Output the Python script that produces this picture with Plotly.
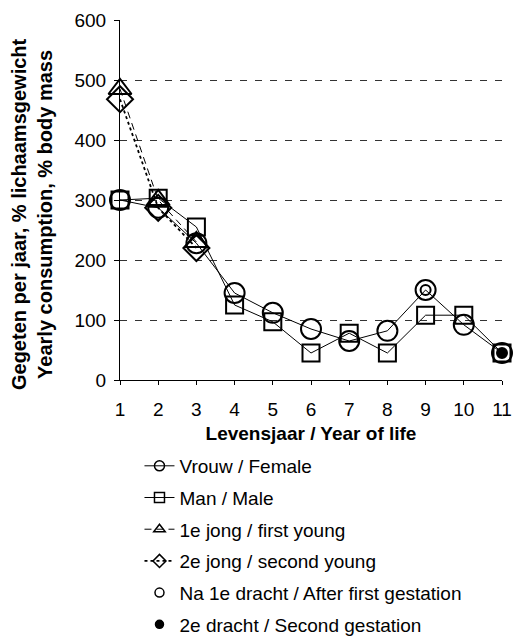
import plotly.graph_objects as go

years = [1, 2, 3, 4, 5, 6, 7, 8, 9, 10, 11]
female = [300, 287, 228, 145, 112, 85, 65, 82, 150, 92, 45]
male = [300, 303, 255, 125, 97, 45, 78, 45, 108, 108, 45]
young_years = [1, 2, 3]
first_young = [485, 300, 230]
second_young = [468, 287, 220]
gest1_year = [9]
gest1_val = [150]
gest2_year = [11]
gest2_val = [45]

y_ticks = [0, 100, 200, 300, 400, 500, 600]

FONT = "Liberation Sans, Arial, sans-serif"

fig = go.Figure()

main = [
    dict(name="Vrouw / Female", x=years, y=female, sym="circle-open", size=20, dash="solid", lw=1, mode="lines+markers"),
    dict(name="Man / Male", x=years, y=male, sym="square-open", size=17, dash="solid", lw=1, mode="lines+markers"),
    dict(name="1e jong / first young", x=young_years, y=first_young, sym="triangle-up-open", size=20, dash="7px,5px", lw=1, mode="lines+markers"),
    dict(name="2e jong / second young", x=young_years, y=second_young, sym="diamond-open", size=20, dash="3px,3px", lw=1.8, mode="lines+markers"),
    dict(name="Na 1e dracht / After first gestation", x=gest1_year, y=gest1_val, sym="circle-open", size=10, dash="solid", lw=1, mode="markers"),
    dict(name="2e dracht / Second gestation", x=gest2_year, y=gest2_val, sym="circle", size=10, dash="solid", lw=1, mode="markers"),
]
legend_sizes = [10, 10, 10, 10, 9, 8]

for i, s in enumerate(main):
    fig.add_trace(go.Scatter(
        x=s["x"], y=s["y"], mode=s["mode"], showlegend=False,
        line=dict(color="black", width=s["lw"], dash=s["dash"]),
        marker=dict(symbol=s["sym"], size=s["size"], color="black",
                    line=dict(color="black", width=2)),
        cliponaxis=False,
    ))

for i, s in enumerate(main):
    fig.add_trace(go.Scatter(
        x=[None], y=[None], mode=s["mode"], name=s["name"], legendgroup=str(i),
        line=dict(color="black", width=s["lw"], dash=s["dash"]),
        marker=dict(symbol=s["sym"], size=legend_sizes[i], color="black",
                    line=dict(color="black", width=1.5)),
    ))

fig.update_layout(
    width=515, height=637,
    margin=dict(l=120, r=13, t=20, b=257, autoexpand=False),
    paper_bgcolor="white", plot_bgcolor="white",
    font=dict(family=FONT, size=19, color="black"),
    showlegend=True,
    legend=dict(x=0.051, y=-0.186, xanchor="left", yanchor="top",
                font=dict(size=19), tracegroupgap=4, bgcolor="rgba(0,0,0,0)"),
    xaxis=dict(range=[1, 11], tickmode="array", tickvals=years, ticktext=[str(v) for v in years],
               showgrid=False, zeroline=False, showline=True, linecolor="black", linewidth=1,
               ticks="outside", ticklen=4, tickcolor="black", tickfont=dict(size=19),
               ticklabelstandoff=8, automargin=False,
               title=dict(text="<b>Levensjaar / Year of life</b>", font=dict(size=19), standoff=7)),
    yaxis=dict(range=[0, 600], tickmode="array", tickvals=y_ticks,
               showgrid=True, gridcolor="#333", gridwidth=1, griddash="7px,8px",
               zeroline=False, showline=True, linecolor="black", linewidth=1,
               ticks="outside", ticklen=5, tickcolor="black", tickfont=dict(size=19),
               ticklabelstandoff=4, automargin=False),
)

fig.add_annotation(
    text="<b>Gegeten per jaar, % lichaamsgewicht<br>Yearly consumption, % body mass</b>",
    xref="paper", yref="paper", x=0, y=0.461, xshift=-88, xanchor="center", yanchor="middle",
    textangle=-90, showarrow=False, font=dict(size=20, family=FONT),
)

fig.write_html("out.html", config={"displayModeBar": False},
               post_script="document.body.style.margin='0px';")
